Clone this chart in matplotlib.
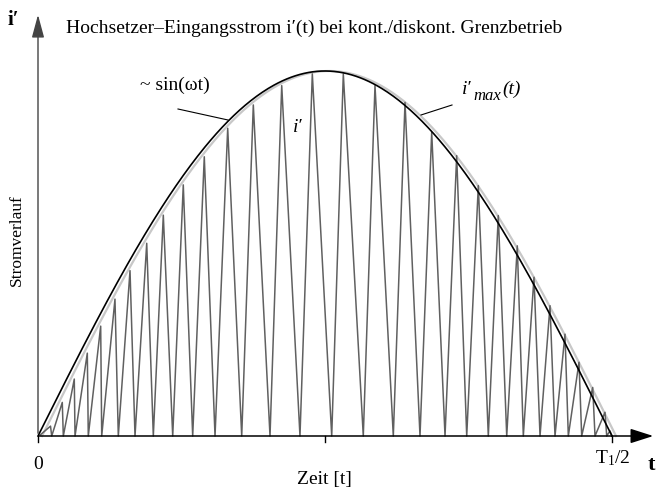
import numpy as np
import matplotlib
matplotlib.use("Agg")
import matplotlib.pyplot as plt
from matplotlib.patches import FancyArrowPatch

plt.rcParams['font.family'] = ['Liberation Serif', 'DejaVu Serif']
plt.rcParams['mathtext.fontset'] = 'custom'
plt.rcParams['mathtext.rm'] = 'Liberation Serif'
plt.rcParams['mathtext.it'] = 'Liberation Serif:italic'

# time in units of T1/2, current relative to the sine amplitude
valley_t = [0.0017, 0.0239, 0.0441, 0.0645, 0.0876, 0.1110, 0.1399, 0.1690,
            0.2009, 0.2347, 0.2695, 0.3084, 0.3549, 0.4042, 0.4564, 0.5117,
            0.5667, 0.6190, 0.6655, 0.7091, 0.7469, 0.7845, 0.8166, 0.8455,
            0.8746, 0.9007, 0.9239, 0.9472, 0.9704, 0.9908, 1.0]
peak_t = [0.0218, 0.0423, 0.0632, 0.0859, 0.1092, 0.1341, 0.1603, 0.1894,
          0.2183, 0.2531, 0.2897, 0.3305, 0.3751, 0.4246, 0.4779, 0.5319,
          0.5871, 0.6394, 0.6859, 0.7294, 0.7671, 0.8019, 0.8350, 0.8641,
          0.8920, 0.9181, 0.9425, 0.9664, 0.9878, 0.9965]
peak_i = [0.027, 0.092, 0.156, 0.227, 0.301, 0.375, 0.453, 0.528,
          0.605, 0.688, 0.765, 0.843, 0.907, 0.960, 0.992, 0.992,
          0.960, 0.914, 0.832, 0.768, 0.686, 0.604, 0.521, 0.435,
          0.357, 0.279, 0.202, 0.133, 0.065, 0.014]
envelope_shift = 0.007


def px(x, y):
    # figure pixel -> data coords (t, i)
    return (x - 38) / 574, (437 - y) / 365


fig = plt.figure(figsize=(6.57, 4.89), dpi=100)
ax = fig.add_axes([0, 0, 1, 1])
ax.set_xlim(-38 / 574, 619 / 574)
ax.set_ylim(-52 / 365, 437 / 365)
ax.axis('off')

# zigzag current: valley -> peak -> valley ...
zz_t, zz_i = [], []
for k in range(len(peak_t)):
    zz_t += [valley_t[k], peak_t[k]]
    zz_i += [0, peak_i[k]]
zz_t.append(valley_t[-1])
zz_i.append(0)

t = np.linspace(0, 1, 400)
tg = np.linspace(envelope_shift, 1 + envelope_shift, 400)
ax.plot(tg, np.sin(np.pi * (tg - envelope_shift)), color='#c8c8c8', lw=1.6, zorder=2)
ax.plot(zz_t, zz_i, color='#606060', lw=1.1, zorder=3)
ax.plot(t, np.sin(np.pi * t), color='black', lw=1.2, zorder=4)

# axes with arrow heads
ax.add_patch(FancyArrowPatch(px(37, 437), px(656, 437),
                             arrowstyle='-|>,head_length=1.0,head_width=0.32',
                             mutation_scale=14, color='black', lw=1.1, zorder=5))
ax.add_patch(FancyArrowPatch(px(38, 437), px(38, 13),
                             arrowstyle='-|>,head_length=1.0,head_width=0.27',
                             mutation_scale=14, color='#444444', lw=1.0, zorder=5))
for xt in [0, 0.5, 1.0]:
    ax.plot([xt, xt], [0, -0.017], color='black', lw=1.0, zorder=5)

ax.text(*px(13, 25), "i′", fontsize=15, fontweight='bold', ha='center', va='baseline')
ax.text(*px(66, 32.5), "Hochsetzer–Eingangsstrom i′(t) bei kont./diskont. Grenzbetrieb",
        fontsize=14, ha='left', va='baseline')
ax.text(*px(17, 240), "Stromverlauf", fontsize=12.5, rotation=90, ha='center', va='center')
ax.text(*px(324, 484), "Zeit [t]", fontsize=14, ha='center', va='baseline')
ax.text(*px(38, 469), "0", fontsize=14, ha='center', va='baseline')
ax.text(*px(595, 463), r"T$_1$/2", fontsize=14, ha='left', va='baseline')
ax.text(*px(651, 470), "t", fontsize=16, fontweight='bold', ha='center', va='baseline')

ax.text(*px(210, 90), "~ sin(ωt)", fontsize=14, ha='right', va='baseline')
ax.plot(*zip(px(178, 110), px(228, 121)), color='black', lw=0.8)
ax.text(*px(298, 132), "i′", fontsize=14, style='italic', ha='center', va='baseline')

# envelope label i'_max(t), built from pieces
ax.text(*px(462, 94), "i′", fontsize=14, style='italic', ha='left', va='baseline')
ax.text(*px(473, 100), "max", fontsize=12, style='italic', ha='left', va='baseline')
ax.text(*px(502, 94), "(t)", fontsize=14, style='italic', ha='left', va='baseline')
ax.plot(*zip(px(452, 106), px(421, 116)), color='black', lw=0.8)

fig.savefig('out.png', dpi=100)
